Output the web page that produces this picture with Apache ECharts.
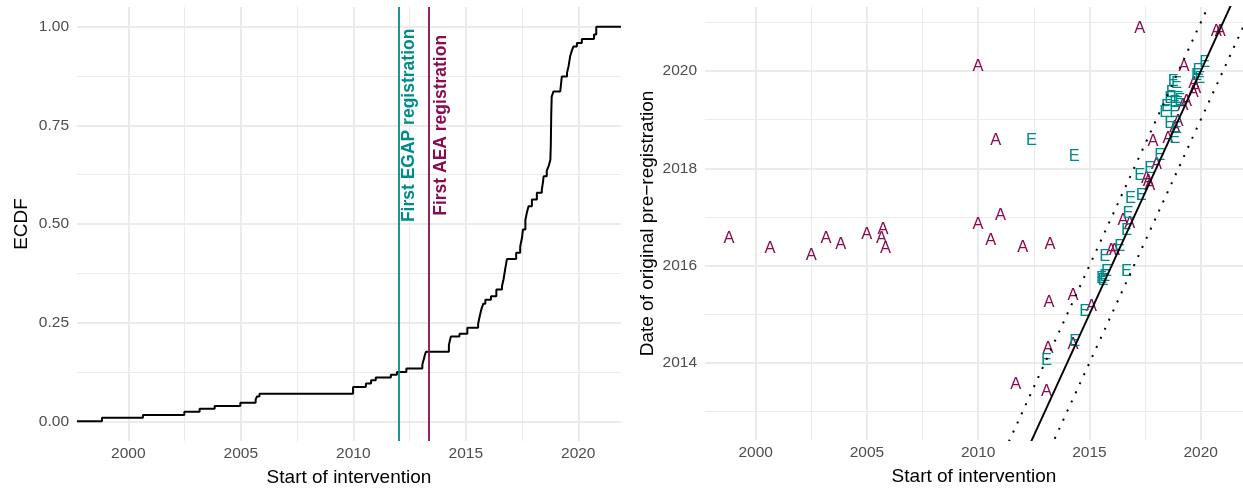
<!DOCTYPE html>
<html>
<head>
    <meta charset="UTF-8"/>
    <title>ECDF of intervention start</title>
    <script src="https://cdn.jsdelivr.net/npm/echarts@6/dist/echarts.min.js"></script>
    <style>
        html, body { margin: 0; padding: 0; background: #fff; }
        #charts { width: 1243px; height: 488px; }
    </style>
</head>
<body>
<div id="charts"></div>
<script>
    // axis ranges and tick labels
    var yearRange = [1997.72, 2021.9];
    var ecdfRange = [-0.05, 1.05];
    var preregRange = [2012.41, 2021.32];

    var yearTicks = [2000, 2005, 2010, 2015, 2020];
    var yearMinorTicks = [2002.5, 2007.5, 2012.5, 2017.5];
    var ecdfTicks = [0, 0.25, 0.5, 0.75, 1];
    var ecdfMinorTicks = [0.125, 0.375, 0.625, 0.875];
    var preregTicks = [2014, 2016, 2018, 2020];
    var preregMinorTicks = [2013, 2015, 2017, 2019, 2021];

    // ECDF steps: [start year, cumulative share after the step]
    var ecdfSteps = [
        [1997.72, 0], [1998.83, 0.009], [2000.65, 0.016], [2002.49, 0.024], [2003.17, 0.032],
        [2003.84, 0.039], [2004.98, 0.047], [2005.66, 0.055], [2005.72, 0.063], [2005.83, 0.070],
        [2009.99, 0.087], [2010.56, 0.096], [2010.79, 0.104], [2011.00, 0.111], [2011.67, 0.118],
        [2011.94, 0.125], [2012.36, 0.134], [2013.07, 0.143], [2013.10, 0.151], [2013.15, 0.160],
        [2013.18, 0.168], [2013.23, 0.176], [2014.25, 0.193], [2014.30, 0.206], [2014.34, 0.215],
        [2014.72, 0.222], [2015.07, 0.237], [2015.55, 0.247], [2015.62, 0.266], [2015.70, 0.285],
        [2015.78, 0.298], [2015.87, 0.308], [2016.12, 0.317], [2016.36, 0.334], [2016.61, 0.342],
        [2016.68, 0.360], [2016.75, 0.385], [2016.83, 0.411], [2017.24, 0.427], [2017.42, 0.443],
        [2017.50, 0.465], [2017.54, 0.486], [2017.65, 0.510], [2017.72, 0.530], [2017.79, 0.545],
        [2017.94, 0.562], [2018.16, 0.579], [2018.38, 0.587], [2018.43, 0.605], [2018.46, 0.621],
        [2018.60, 0.635], [2018.68, 0.646], [2018.76, 0.663], [2018.78, 0.700], [2018.79, 0.740],
        [2018.80, 0.780], [2018.82, 0.823], [2018.90, 0.836], [2019.20, 0.840], [2019.27, 0.874],
        [2019.50, 0.883], [2019.57, 0.900], [2019.64, 0.925], [2019.72, 0.940], [2019.79, 0.950],
        [2019.94, 0.959], [2020.16, 0.969], [2020.70, 0.980], [2020.80, 1.000], [2021.90, 1.000]
    ];

    // first registrations
    var regNames = ['First EGAP registration', 'First AEA registration'];
    var regYears = [2012.0, 2013.35];
    var regLabelYears = [2012.5, 2013.89];
    var regLabelShare = 0.75;
    var regColors = ['#008B8B', '#8B0A50'];

    // [start of intervention, date of original pre-registration]
    var aeaPoints = [
        [1998.80, 2016.56], [2000.64, 2016.36], [2002.49, 2016.21], [2003.16, 2016.56], [2003.82, 2016.44],
        [2004.99, 2016.63], [2005.65, 2016.56], [2005.72, 2016.75], [2005.83, 2016.36], [2009.99, 2020.09],
        [2010.79, 2018.57], [2011.00, 2017.04], [2009.99, 2016.84], [2010.56, 2016.51], [2012.00, 2016.38],
        [2013.23, 2016.43], [2013.18, 2015.25], [2014.26, 2015.39], [2013.14, 2014.29], [2011.69, 2013.56],
        [2013.07, 2013.40], [2014.26, 2014.37], [2015.09, 2015.15], [2015.98, 2016.32], [2016.13, 2016.32],
        [2016.51, 2016.93], [2016.81, 2016.86], [2017.56, 2017.79], [2017.64, 2017.72], [2017.71, 2017.65],
        [2018.01, 2018.07], [2017.86, 2018.55], [2018.53, 2018.62], [2018.98, 2018.96], [2018.83, 2018.85],
        [2019.20, 2019.30], [2019.36, 2019.37], [2019.69, 2019.75], [2019.78, 2019.64], [2019.66, 2019.57],
        [2019.25, 2020.09], [2017.26, 2020.88], [2020.70, 2020.81], [2020.88, 2020.81]
    ];
    var egapPoints = [
        [2012.40, 2018.57], [2014.32, 2018.24], [2013.07, 2014.05], [2014.34, 2014.43], [2014.79, 2015.05],
        [2015.54, 2015.73], [2015.61, 2015.70], [2015.69, 2015.77], [2015.76, 2015.87], [2015.69, 2016.19],
        [2016.66, 2015.87], [2016.36, 2016.39], [2016.66, 2016.72], [2016.73, 2017.07], [2016.84, 2017.38],
        [2017.33, 2017.45], [2017.26, 2017.86], [2017.71, 2018.00], [2018.16, 2018.27], [2018.83, 2018.62],
        [2018.61, 2018.92], [2018.91, 2018.82], [2018.38, 2019.16], [2018.83, 2019.16], [2018.46, 2019.27],
        [2018.61, 2019.44], [2018.98, 2019.44], [2018.83, 2019.35], [2018.68, 2019.57], [2018.76, 2019.78],
        [2018.91, 2019.75], [2019.88, 2020.02], [2019.81, 2019.92], [2019.96, 2019.85], [2020.18, 2020.17],
        [2019.06, 2019.40]
    ];

    // reference lines y = x + offset
    var diagOffsets = [1, 0, -1];

    var font = '"Liberation Sans", Arial, sans-serif';
    var gridColor = '#EBEBEB';

    function majorAxis(gridIndex, range, ticks, fmt, pos, name, nameGap) {
        return {
            type: 'value', gridIndex: gridIndex, position: pos,
            min: range[0], max: range[1],
            name: name, nameLocation: 'middle', nameGap: nameGap,
            nameTextStyle: {color: '#000', fontSize: 19, fontFamily: font},
            axisLine: {show: false},
            axisTick: {show: false, customValues: ticks},
            axisLabel: {
                customValues: ticks, formatter: fmt, margin: pos === 'bottom' ? 5 : 8,
                color: '#4D4D4D', fontSize: 15.5, fontFamily: font
            },
            splitLine: {show: true, lineStyle: {color: gridColor, width: 2}}
        };
    }

    function minorAxis(gridIndex, range, ticks, pos) {
        return {
            type: 'value', gridIndex: gridIndex, position: pos,
            min: range[0], max: range[1],
            axisLine: {show: false},
            axisTick: {show: false, customValues: ticks},
            axisLabel: {show: false, customValues: ticks},
            splitLine: {show: true, lineStyle: {color: gridColor, width: 1}}
        };
    }

    var yearFmt = function (v) { return String(v); };
    var shareFmt = function (v) { return v.toFixed(2); };

    var series = [
        {
            type: 'line', xAxisIndex: 0, yAxisIndex: 0,
            data: ecdfSteps, step: 'end', showSymbol: false, silent: true,
            lineStyle: {color: '#000', width: 2},
            markLine: {
                silent: true, symbol: 'none', label: {show: false},
                data: regYears.map(function (y, i) {
                    return {xAxis: y, lineStyle: {color: regColors[i], width: 1.8, type: 'solid', opacity: 1}};
                })
            }
        }
    ];

    regNames.forEach(function (n, i) {
        series.push({
            type: 'scatter', xAxisIndex: 0, yAxisIndex: 0, symbolSize: 0, silent: true,
            itemStyle: {opacity: 1},
            data: [[regLabelYears[i], regLabelShare]],
            label: {
                show: true, position: 'inside', rotate: 90, formatter: n, opacity: 1,
                color: regColors[i], fontWeight: 'bold', fontSize: 17.5, fontFamily: font
            }
        });
    });

    diagOffsets.forEach(function (off) {
        series.push({
            type: 'line', xAxisIndex: 2, yAxisIndex: 2, showSymbol: false, silent: true, clip: true,
            data: [[yearRange[0], yearRange[0] + off], [yearRange[1], yearRange[1] + off]],
            lineStyle: off === 0
                ? {color: '#000', width: 1.9}
                : {color: '#000', width: 2, type: [2, 8]}
        });
    });

    [[aeaPoints, 'A', regColors[1]], [egapPoints, 'E', regColors[0]]].forEach(function (s) {
        series.push({
            type: 'scatter', xAxisIndex: 2, yAxisIndex: 2, symbolSize: 0, silent: true,
            itemStyle: {opacity: 1},
            data: s[0],
            label: {
                show: true, position: 'inside', formatter: s[1], opacity: 1,
                color: s[2], fontSize: 16.5, fontFamily: font
            }
        });
    });

    var myChart = echarts.init(document.getElementById('charts'), null, {renderer: 'canvas'});
    myChart.setOption({
        animation: false,
        backgroundColor: '#fff',
        textStyle: {fontFamily: font},
        grid: [
            {left: 77, top: 7, width: 544, height: 434, outerBoundsMode: 'none', containLabel: false},
            {left: 705, top: 7, width: 538, height: 433, outerBoundsMode: 'none', containLabel: false}
        ],
        xAxis: [
            majorAxis(0, yearRange, yearTicks, yearFmt, 'bottom', 'Start of intervention', 27),
            minorAxis(0, yearRange, yearMinorTicks, 'top'),
            majorAxis(1, yearRange, yearTicks, yearFmt, 'bottom', 'Start of intervention', 27),
            minorAxis(1, yearRange, yearMinorTicks, 'top')
        ],
        yAxis: [
            majorAxis(0, ecdfRange, ecdfTicks, shareFmt, 'left', 'ECDF', 46),
            minorAxis(0, ecdfRange, ecdfMinorTicks, 'right'),
            majorAxis(1, preregRange, preregTicks, yearFmt, 'left', 'Date of original pre\u2212registration', 48),
            minorAxis(1, preregRange, preregMinorTicks, 'right')
        ],
        series: series
    });
</script>
</body>
</html>
